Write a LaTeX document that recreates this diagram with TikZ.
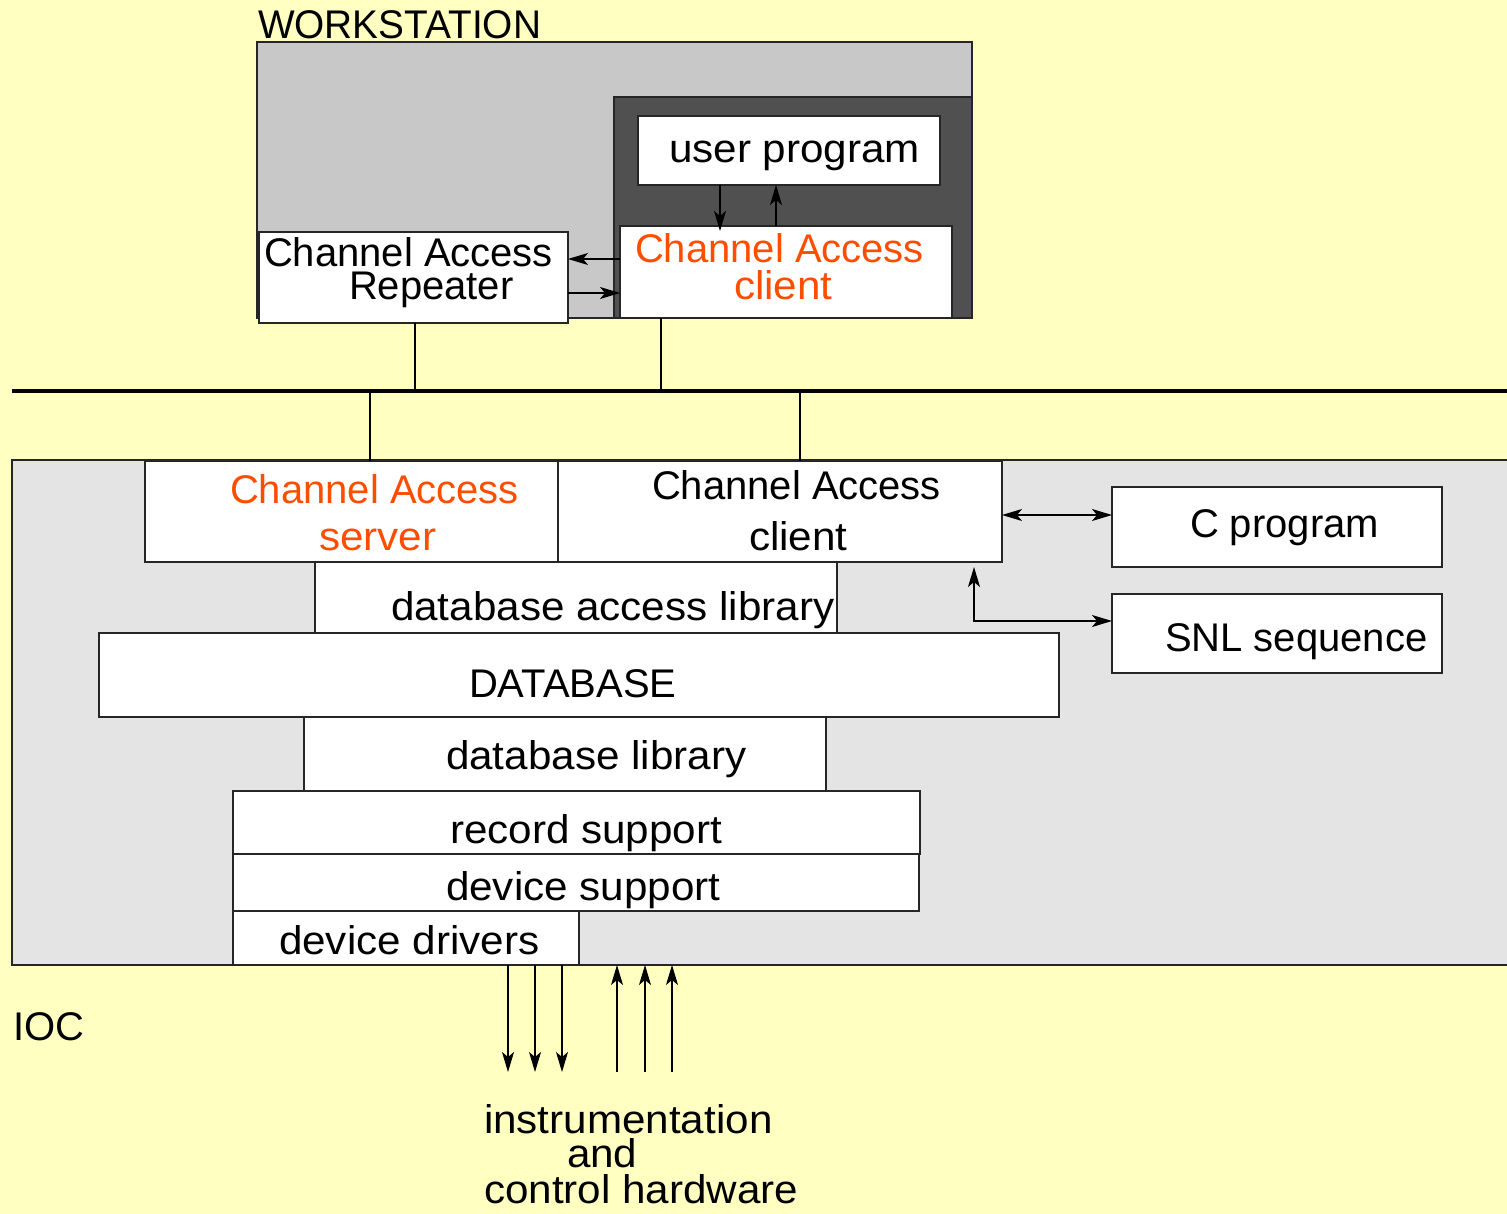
\documentclass[tikz,border=0pt]{standalone}
\usepackage{fontspec}
\setmainfont{Liberation Sans}
\newfontfamily\lcfont[FakeStretch=1.055]{Liberation Sans}
\newfontfamily\capfont[FakeStretch=0.97]{Liberation Sans}
\usetikzlibrary{arrows.meta}
\definecolor{bgyellow}{RGB}{255,255,194}
\definecolor{wsgray}{RGB}{200,200,200}
\definecolor{wsdarkgray}{RGB}{80,80,80}
\definecolor{iocgray}{RGB}{228,228,228}
\definecolor{caorange}{RGB}{255,77,0}
\begin{document}
\begin{tikzpicture}[x=1pt,y=-1pt,
  box/.style={draw=black!85, line width=1.2pt, fill=white, anchor=north west, inner sep=0pt, outer sep=0pt},
  lbl/.style={anchor=base west, inner sep=0pt, outer sep=0pt, font=\fontsize{40}{40}\selectfont},
  lclbl/.style={lbl, font=\fontsize{40}{40}\lcfont},
  catext/.style={lbl, text=caorange},
  lccatext/.style={lclbl, text=caorange},
  netline/.style={line width=3pt},
  dropline/.style={line width=2.5pt},
  arr/.style={line width=1.1pt, -{Stealth[length=20pt,width=12pt,inset=5pt]}},
  dblarr/.style={line width=1.1pt, {Stealth[length=20pt,width=12pt,inset=5pt]}-{Stealth[length=20pt,width=12pt,inset=5pt]}},
]
\useasboundingbox (0,0) rectangle (1507,1214);
\fill[bgyellow] (0,0) rectangle (1507,1214);

% workstation
\node[box, fill=wsgray, minimum width=715pt, minimum height=276pt] (ws) at (257,42) {};
\node[box, fill=wsdarkgray, minimum width=358pt, minimum height=221pt] (wsdark) at (614,97) {};
\node[box, minimum width=302pt, minimum height=69pt] (userprog) at (638,116) {};
\node[box, minimum width=332pt, minimum height=92pt] (wsclient) at (620,226) {};
\node[box, minimum width=309pt, minimum height=91pt] (repeater) at (259,232) {};

\node[lbl, font=\fontsize{40}{40}\capfont] (wslabel) at (258,39) {WORKSTATION};
\node[lclbl] (userprogtxt) at (669,163) {user program};
\node[lbl] (reptxtA) at (264,267) {Channel Access};
\node[lbl] (reptxtB) at (349,300) {Repeater};
\node[catext] (wscltxtA) at (635,263) {Channel Access};
\node[lccatext] (wscltxtB) at (734,300) {client};

\draw[arr] ([xshift=82pt]userprog.south west) -- ([xshift=100pt,yshift=-5pt]wsclient.north west);
\draw[arr] ([xshift=156pt]wsclient.north west) -- ([xshift=138pt]userprog.south west);
\draw[arr] ([yshift=-33pt]wsclient.north west) -- ([yshift=-27pt]repeater.north east);
\draw[arr] ([yshift=-61pt]repeater.north east) -- ([yshift=-67pt]wsclient.north west);

% network
\coordinate (netL) at (12,391);
\coordinate (netR) at (1510,391);
\draw[netline] (netL) -- (netR);
\draw[dropline] ([xshift=156pt]repeater.south west) -- ([xshift=156pt]repeater.south west |- netL);
\draw[dropline] ([xshift=41pt]wsclient.south west) -- ([xshift=41pt]wsclient.south west |- netL);

% IOC
\node[box, fill=iocgray, minimum width=1510pt, minimum height=505pt] (ioc) at (12,460) {};
\node[box, minimum width=413pt, minimum height=101pt] (caserver) at (145,461) {};
\node[box, minimum width=444pt, minimum height=101pt] (iocclient) at (558,461) {};
\node[box, minimum width=522pt, minimum height=71pt] (dbal) at (315,562) {};
\node[box, minimum width=960pt, minimum height=84pt] (database) at (99,633) {};
\node[box, minimum width=522pt, minimum height=74pt] (dblib) at (304,717) {};
\node[box, minimum width=687pt, minimum height=63pt] (recsup) at (233,791) {};
\node[box, minimum width=686pt, minimum height=57pt] (devsup) at (233,854) {};
\node[box, minimum width=346pt, minimum height=54pt] (devdrv) at (233,911) {};
\node[box, minimum width=330pt, minimum height=80pt] (cprog) at (1112,487) {};
\node[box, minimum width=330pt, minimum height=79pt] (snl) at (1112,594) {};

\draw[dropline] ([xshift=225pt]caserver.north west) -- ([xshift=225pt]caserver.north west |- netL);
\draw[dropline] ([xshift=242pt]iocclient.north west) -- ([xshift=242pt]iocclient.north west |- netL);

\node[catext] (srvtxtA) at (230,503) {Channel Access};
\node[lccatext] (srvtxtB) at (319,550) {server};
\node[lbl] (iocctxtA) at (652,499) {Channel Access};
\node[lclbl] (iocctxtB) at (749,550) {client};
\node[lclbl] (dbaltxt) at (391,620) {database access library};
\node[lbl] (databasetxt) at (469,697) {DATABASE};
\node[lclbl] (dblibtxt) at (446,769) {database library};
\node[lclbl] (recsuptxt) at (450,843) {record support};
\node[lclbl] (devsuptxt) at (446,900) {device support};
\node[lclbl] (devdrvtxt) at (279,954) {device drivers};
\node[lbl] (cprogtxt) at (1190,537) {C program};
\node[lbl] (snltxt) at (1165,651) {SNL sequence};

\draw[dblarr] ([yshift=-54pt]iocclient.north east) -- ([yshift=-28pt]cprog.north west);
\draw[dblarr] ([yshift=-27pt]snl.north west) -| ([xshift=-28pt,yshift=-5pt]iocclient.south east);

% hardware
\coordinate (hwline) at (0,1072);
\foreach \dx in {275,302,329}
  \draw[arr] ([xshift=\dx pt]devdrv.south west) -- ([xshift=\dx pt]devdrv.south west |- hwline);
\foreach \dx in {605,633,660}
  \draw[arr] ([xshift=\dx pt]ioc.south west |- hwline) -- ([xshift=\dx pt]ioc.south west);

\node[lbl] (ioctxt) at (13,1040) {IOC};
\node[lclbl] (hwtxtA) at (484,1133) {instrumentation};
\node[lclbl] (hwtxtB) at (567,1167) {and};
\node[lclbl] (hwtxtC) at (484,1203) {control hardware};
\end{tikzpicture}
\end{document}
